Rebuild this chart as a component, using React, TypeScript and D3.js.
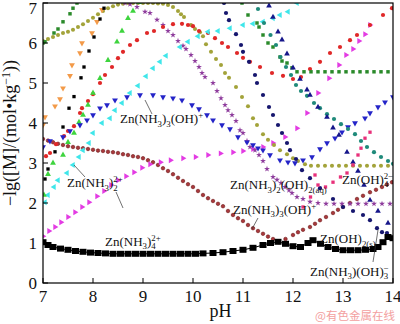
import React from "react";
import * as d3 from "d3";

type P = [number, number];

const X_TICKS = [7, 8, 9, 10, 11, 12, 13, 14];
const Y_TICKS = [0, 1, 2, 3, 4, 5, 6, 7];

// Zn(NH3)4 2+ (large black squares)
const znNH34: P[] = [
  [7.0, 1.02], [7.1, 0.95], [7.2, 0.9], [7.35, 0.86], [7.5, 0.83], [7.65, 0.8], [7.8, 0.78], [7.95, 0.76],
  [8.1, 0.75], [8.25, 0.74], [8.4, 0.73], [8.55, 0.73], [8.7, 0.73], [8.85, 0.73], [9.0, 0.73], [9.15, 0.73],
  [9.3, 0.73], [9.45, 0.73], [9.6, 0.73], [9.75, 0.73], [9.9, 0.73], [10.05, 0.73], [10.2, 0.74], [10.4, 0.75],
  [10.6, 0.77], [10.8, 0.8], [11.0, 0.83], [11.2, 0.88], [11.4, 0.95], [11.55, 1.0], [11.7, 1.03], [11.85, 0.98],
  [12.0, 0.92], [12.15, 0.9], [12.3, 1.0], [12.4, 1.07], [12.55, 0.98], [12.7, 0.9], [12.85, 0.85], [13.0, 0.82],
  [13.15, 0.82], [13.3, 0.82], [13.45, 0.83], [13.6, 0.85], [13.7, 0.9], [13.8, 1.02], [13.9, 1.15], [14.0, 1.12],
];
const blackSmall: P[] = [
  [7.04, 2.6], [7.1, 2.85], [7.24, 3.28], [7.4, 3.9], [7.52, 4.37], [7.62, 4.66], [7.76, 5.13],
  [7.82, 5.4], [7.92, 5.8], [8.02, 6.15], [8.14, 6.6], [8.22, 6.87],
];
const orangeTri: P[] = [
  [7.0, 3.95], [7.04, 4.15], [7.24, 4.42], [7.34, 4.6], [7.4, 4.87], [7.54, 5.18], [7.58, 5.45],
  [7.74, 5.75], [7.78, 6.0], [7.98, 6.25], [8.08, 6.53], [8.18, 6.83],
];
const greenLeft: P[] = [
  [7.0, 6.0], [7.04, 6.03], [7.22, 6.25], [7.3, 6.35], [7.4, 6.53], [7.54, 6.73], [7.6, 6.87], [7.68, 7.0],
];
const greenRight: P[] = [
  [10.98, 7.0], [11.1, 6.7], [11.28, 6.5], [11.32, 6.4], [11.4, 6.2], [11.5, 6.0], [11.6, 5.9], [11.74, 5.65],
  [11.78, 5.55], [11.88, 5.5], [11.98, 5.38], [12.08, 5.28], [12.22, 5.28], [12.36, 5.28], [12.5, 5.28],
  [12.64, 5.28], [12.78, 5.28], [12.92, 5.28], [13.06, 5.28], [13.2, 5.28], [13.34, 5.28], [13.48, 5.28],
  [13.62, 5.28], [13.76, 5.28], [13.9, 5.28],
];
const olive: P[] = [
  [7.0, 6.05], [7.1, 6.1], [7.2, 6.15], [7.3, 6.2], [7.4, 6.25], [7.5, 6.28], [7.6, 6.33], [7.7, 6.4],
  [7.8, 6.47], [7.9, 6.55], [8.0, 6.63], [8.1, 6.72], [8.2, 6.8], [8.3, 6.87], [8.4, 6.92], [8.5, 6.96],
  [8.6, 6.98], [8.7, 7.0], [8.8, 7.0], [8.9, 7.0], [9.0, 7.0], [9.1, 7.0], [9.2, 7.0], [9.3, 6.99],
  [9.4, 6.98], [9.5, 6.95], [9.6, 6.9], [9.7, 6.8], [9.76, 6.72], [9.82, 6.65], [9.96, 6.45], [10.04, 6.35],
  [10.14, 6.27], [10.2, 6.17], [10.26, 5.97], [10.36, 5.78], [10.46, 5.6], [10.56, 5.45], [10.64, 5.25],
  [10.72, 5.13], [10.86, 4.9], [10.98, 4.65], [11.1, 4.42], [11.2, 4.12], [11.28, 3.95], [11.4, 3.72],
  [11.5, 3.58], [11.62, 3.45], [11.74, 3.32], [11.88, 3.22], [12.0, 3.12], [12.1, 3.05], [12.24, 2.97],
  [12.36, 2.93], [12.5, 2.93], [12.64, 2.93], [12.78, 2.93], [12.92, 2.93], [13.06, 2.93], [13.2, 2.93],
  [13.34, 2.93], [13.48, 2.93], [13.62, 2.93], [13.76, 2.93], [13.9, 2.93],
];
const purpleStar: P[] = [
  [8.64, 7.0], [8.74, 6.97], [8.88, 6.9], [9.04, 6.78], [9.14, 6.75], [9.28, 6.58], [9.4, 6.45], [9.5, 6.3],
  [9.6, 6.2], [9.7, 6.05], [9.8, 5.93], [9.86, 5.85], [9.96, 5.7], [10.04, 5.55], [10.12, 5.4], [10.18, 5.25],
  [10.24, 5.15], [10.4, 5.0], [10.48, 4.8], [10.56, 4.62], [10.64, 4.45], [10.7, 4.32], [10.78, 4.2],
  [10.86, 4.05], [10.94, 3.82], [11.0, 3.75], [11.08, 3.55], [11.14, 3.4], [11.24, 3.32], [11.32, 3.2],
  [11.4, 3.05], [11.48, 2.85], [11.6, 2.65], [11.68, 2.58], [11.76, 2.5], [11.84, 2.4], [11.92, 2.32],
  [11.98, 2.25], [12.08, 2.15], [12.2, 2.1], [12.34, 2.03], [12.5, 2.0], [12.66, 1.98], [12.82, 1.98],
  [12.98, 1.98], [13.14, 1.98], [13.3, 1.98], [13.46, 1.98], [13.62, 1.98], [13.78, 1.98], [13.94, 1.98],
];
const redCircle: P[] = [
  [7.06, 3.17], [7.14, 3.25], [7.26, 3.47], [7.42, 3.67], [7.5, 3.8], [7.62, 3.92], [7.74, 4.25], [7.78, 4.37],
  [7.9, 4.55], [8.0, 4.72], [8.14, 5.0], [8.24, 5.2], [8.38, 5.4], [8.5, 5.62], [8.6, 5.78], [8.74, 5.95],
  [8.88, 6.07], [9.08, 6.25], [9.22, 6.3], [9.4, 6.4], [9.6, 6.47], [9.78, 6.48], [9.9, 6.45], [10.0, 6.42],
  [10.12, 6.3], [10.3, 6.25], [10.44, 6.12], [10.58, 6.0], [10.7, 5.9], [10.88, 5.75], [11.0, 5.63],
  [11.14, 5.53], [11.34, 5.4], [11.58, 5.25], [11.8, 5.18], [12.0, 5.1], [12.16, 5.15], [12.34, 5.35],
  [12.54, 5.53], [12.74, 5.75], [12.94, 5.9], [13.14, 6.07], [13.28, 6.2], [13.54, 6.45], [13.8, 6.7], [13.98, 6.87],
];
const limeTri: P[] = [
  [7.02, 2.2], [7.1, 2.72], [7.2, 3.0], [7.4, 3.2], [7.5, 3.52], [7.62, 3.75], [7.72, 4.02], [7.8, 4.2],
  [7.9, 4.45], [8.0, 4.75], [8.14, 5.12], [8.3, 5.57], [8.48, 6.03], [8.58, 6.3], [8.7, 6.62], [8.8, 6.8], [8.92, 7.02],
];
const cyanTri: P[] = [
  [7.04, 2.02], [7.1, 2.2], [7.22, 2.4], [7.3, 2.57], [7.48, 2.75], [7.6, 2.95], [7.72, 3.15], [7.8, 3.32],
  [7.92, 3.5], [8.0, 3.75], [8.18, 4.0], [8.34, 4.12], [8.44, 4.32], [8.58, 4.5], [8.74, 4.75], [8.9, 4.93],
  [9.06, 5.17], [9.2, 5.37], [9.34, 5.53], [9.46, 5.68], [9.74, 5.9], [9.9, 6.03], [10.1, 6.17], [10.3, 6.28],
  [10.5, 6.3], [10.74, 6.37], [11.0, 6.45], [11.2, 6.48], [11.4, 6.53], [11.6, 6.62], [11.74, 6.7], [11.9, 6.78],
  [12.08, 7.0],
];
const blueTri: P[] = [
  [7.0, 3.4], [7.14, 3.55], [7.4, 3.65], [7.54, 3.8], [7.74, 3.95], [7.88, 4.07], [8.0, 4.2], [8.14, 4.37],
  [8.28, 4.45], [8.44, 4.57], [8.68, 4.65], [8.94, 4.7], [9.2, 4.7], [9.4, 4.65], [9.6, 4.62], [9.78, 4.57],
  [9.98, 4.45], [10.12, 4.35], [10.28, 4.2], [10.4, 4.07], [10.58, 3.95], [10.74, 3.85], [10.9, 3.65],
  [11.08, 3.52], [11.2, 3.45], [11.3, 3.37], [11.4, 3.32], [11.54, 3.2], [11.74, 3.07], [11.9, 3.02],
  [12.04, 3.0], [12.2, 3.07], [12.38, 3.15], [12.54, 3.35], [12.68, 3.5], [12.84, 3.62], [12.98, 3.77],
  [13.1, 3.9], [13.24, 4.0], [13.44, 4.12], [13.54, 4.25], [13.7, 4.4], [13.84, 4.52], [14.0, 4.65],
];
const navyCircle: P[] = [
  [10.62, 7.0], [10.66, 6.75], [10.72, 6.57], [10.86, 6.22], [10.96, 5.95], [11.0, 5.78], [11.12, 5.53],
  [11.24, 5.2], [11.28, 5.0], [11.4, 4.7], [11.52, 4.4], [11.6, 4.2], [11.7, 3.95], [11.78, 3.75],
  [11.88, 3.5], [11.94, 3.32], [12.06, 3.1], [12.18, 2.82], [12.34, 2.62], [12.54, 2.37], [12.8, 2.1],
  [13.0, 1.9], [13.2, 1.8], [13.4, 1.7], [13.54, 1.57], [13.68, 1.37], [13.78, 1.27], [13.88, 1.25],
];
const navyTri: P[] = [
  [11.52, 6.93], [11.6, 6.65], [11.7, 6.28], [11.78, 6.08], [11.88, 5.73], [12.0, 5.38], [12.14, 5.1],
  [12.28, 4.83], [12.34, 4.7], [12.5, 4.4], [12.68, 4.15], [12.8, 3.88], [12.92, 3.7], [13.08, 3.27],
  [13.2, 3.02], [13.3, 2.8], [13.42, 2.45], [13.54, 2.07], [13.7, 1.8], [13.9, 1.5],
];
const tealCircle: P[] = [
  [11.3, 6.85], [11.42, 6.5], [11.55, 6.2], [11.66, 5.95], [11.75, 5.65], [11.86, 5.4], [11.96, 5.2],
  [12.06, 4.95], [12.16, 4.8], [12.28, 4.68], [12.42, 4.5], [12.54, 4.37], [12.68, 4.22], [12.82, 4.1],
  [12.96, 3.97], [13.1, 3.85], [13.24, 3.72], [13.36, 3.55], [13.48, 3.4], [13.62, 3.27], [13.76, 3.15],
  [13.9, 3.05], [14.0, 2.98],
];
const magentaTri: P[] = [
  [7.0, 1.17], [7.12, 1.3], [7.24, 1.4], [7.36, 1.52], [7.5, 1.65], [7.64, 1.77], [7.78, 1.9], [7.92, 2.02],
  [8.08, 2.17], [8.22, 2.3], [8.36, 2.45], [8.5, 2.57], [8.66, 2.67], [8.82, 2.77], [8.98, 2.88], [9.14, 2.97],
  [9.35, 3.02], [9.55, 3.07], [9.8, 3.12], [10.05, 3.15], [10.3, 3.2], [10.55, 3.24], [10.8, 3.27],
  [11.0, 3.3], [11.2, 3.35], [11.4, 3.4], [11.6, 3.5], [11.84, 3.65], [12.08, 3.87], [12.28, 4.25],
  [12.5, 4.75], [12.72, 5.12], [12.92, 5.45], [13.06, 5.7], [13.2, 5.85], [13.32, 6.05], [13.44, 6.22], [13.54, 6.45],
];
const maroonCircle: P[] = [
  [7.0, 3.6], [7.1, 3.56], [7.2, 3.52], [7.3, 3.48], [7.4, 3.45], [7.5, 3.42], [7.6, 3.4], [7.7, 3.38],
  [7.8, 3.37], [7.9, 3.35], [8.0, 3.33], [8.1, 3.31], [8.2, 3.3], [8.3, 3.28], [8.4, 3.27], [8.5, 3.25],
  [8.6, 3.22], [8.7, 3.2], [8.8, 3.17], [8.9, 3.15], [9.0, 3.12], [9.1, 3.07], [9.2, 3.02], [9.3, 2.95],
  [9.4, 2.87], [9.5, 2.8], [9.6, 2.72], [9.7, 2.63], [9.8, 2.55], [9.9, 2.47], [10.0, 2.4], [10.1, 2.3],
  [10.2, 2.2], [10.3, 2.12], [10.4, 2.05], [10.5, 1.98], [10.6, 1.92], [10.7, 1.8], [10.8, 1.7], [10.9, 1.62],
  [11.0, 1.55], [11.1, 1.45], [11.2, 1.37], [11.3, 1.3], [11.4, 1.23], [11.5, 1.16], [11.6, 1.1], [11.72, 1.02],
  [11.85, 1.1], [12.0, 1.2], [12.1, 1.27], [12.2, 1.33], [12.34, 1.4], [12.44, 1.48], [12.54, 1.57], [12.66, 1.65],
  [12.8, 1.75], [12.9, 1.83], [13.0, 1.9], [13.14, 2.0], [13.28, 2.1], [13.4, 2.18], [13.54, 2.27],
  [13.66, 2.33], [13.78, 2.4], [13.88, 2.46], [13.98, 2.52],
];
const pinkSquare: P[] = [
  [12.2, 1.9], [12.35, 2.15], [12.44, 2.7], [12.5, 2.45], [12.65, 2.4], [12.8, 2.52], [12.95, 2.65],
  [13.08, 2.75], [13.2, 2.95], [13.3, 3.2], [13.36, 3.37], [13.44, 3.62], [13.54, 3.77],
];

type Shape = "circle" | "square" | "triUp" | "triDown" | "triLeft" | "triRight" | "star";
interface Series { data: P[]; shape: Shape; fill: string; stroke?: string; size: number }

const SERIES: Series[] = [
  { data: maroonCircle, shape: "circle", fill: "#a8383c", stroke: "#6e1414", size: 10 },
  { data: magentaTri, shape: "triRight", fill: "#e33be3", size: 15 },
  { data: olive, shape: "circle", fill: "#a3a33a", size: 13 },
  { data: purpleStar, shape: "star", fill: "#8e3c9c", size: 11 },
  { data: redCircle, shape: "circle", fill: "#e02828", size: 14 },
  { data: cyanTri, shape: "triLeft", fill: "#3fe6ea", size: 15 },
  { data: limeTri, shape: "triUp", fill: "#3ed43e", size: 15 },
  { data: orangeTri, shape: "triDown", fill: "#f39a48", size: 15 },
  { data: blackSmall, shape: "square", fill: "#000000", size: 11 },
  { data: greenLeft, shape: "square", fill: "#2a8a2a", size: 12 },
  { data: greenRight, shape: "square", fill: "#2a8a2a", size: 12 },
  { data: blueTri, shape: "triDown", fill: "#2424c8", size: 15 },
  { data: tealCircle, shape: "circle", fill: "#1f8a7a", size: 14 },
  { data: navyCircle, shape: "circle", fill: "#16166e", size: 14 },
  { data: navyTri, shape: "triUp", fill: "#16168a", size: 14 },
  { data: pinkSquare, shape: "square", fill: "#e8307a", size: 11 },
];

const W = 400;
const H = 324;
const M = { left: 43, right: 7, top: 3, bottom: 41 };

const x = d3.scaleLinear().domain([7, 14]).range([M.left, W - M.right]);
const y = d3.scaleLinear().domain([0, 7]).range([H - M.bottom, M.top]);

const ROT: Record<Shape, number> = { circle: 0, square: 0, triUp: 0, triDown: 180, triLeft: -90, triRight: 90, star: 0 };
function symPath(shape: Shape, size: number) {
  const t =
    shape === "circle" ? d3.symbolCircle :
    shape === "square" ? d3.symbolSquare :
    shape === "star" ? d3.symbolStar : d3.symbolTriangle;
  return d3.symbol(t, size)() as string;
}

type Seg = { t: string; k?: "sub" | "sup"; dx?: number };
const SERIF = "'Liberation Serif', 'Times New Roman', serif";

function Chem({ px, py, segs, size = 13 }: { px: number; py: number; segs: Seg[]; size?: number }) {
  let cur = 0;
  return (
    <text x={x(px)} y={y(py)} fontSize={size} fontFamily={SERIF} fill="#111">
      {segs.map((s, i) => {
        const target = s.k === "sub" ? 3.5 : s.k === "sup" ? -5 : 0;
        const dy = target - cur;
        cur = target;
        return (
          <tspan key={i} dy={dy} dx={s.dx || 0} fontSize={s.k ? size * 0.68 : size}>
            {s.t}
          </tspan>
        );
      })}
    </text>
  );
}

const LABELS: { px: number; py: number; segs: Seg[] }[] = [
  { px: 8.54, py: 4.0, segs: [{ t: "Zn(NH" }, { t: "3", k: "sub" }, { t: ")" }, { t: "3", k: "sub" }, { t: "(OH)" }, { t: "+", k: "sup" }] },
  { px: 7.48, py: 2.4, segs: [{ t: "Zn(NH" }, { t: "3", k: "sub" }, { t: ")" }, { t: "2", k: "sub" }, { t: "2+", k: "sup", dx: -4.5 }] },
  { px: 8.24, py: 0.93, segs: [{ t: "Zn(NH" }, { t: "3", k: "sub" }, { t: ")" }, { t: "4", k: "sub" }, { t: "2+", k: "sup", dx: -4.5 }] },
  { px: 10.74, py: 2.35, segs: [{ t: "Zn(NH" }, { t: "3", k: "sub" }, { t: ")" }, { t: "2", k: "sub" }, { t: "(OH)" }, { t: "2(aq)", k: "sub" }] },
  { px: 10.8, py: 1.73, segs: [{ t: "Zn(NH" }, { t: "3", k: "sub" }, { t: ")" }, { t: "3", k: "sub" }, { t: "(OH)" }, { t: "+", k: "sup" }] },
  { px: 12.98, py: 2.48, segs: [{ t: "Zn(OH)" }, { t: "4", k: "sub" }, { t: "2−", k: "sup", dx: -4.5 }] },
  { px: 12.54, py: 1.0, segs: [{ t: "Zn(OH)" }, { t: "2(s)", k: "sub" }] },
  { px: 12.34, py: 0.18, segs: [{ t: "Zn(NH" }, { t: "3", k: "sub" }, { t: ")(OH)" }, { t: "3", k: "sub" }, { t: "−", k: "sup", dx: -4.5 }] },
];

const LEADERS: [P, P][] = [
  [[9.04, 4.575], [9.18, 4.225]],
  [[7.62, 2.95], [7.84, 2.65]],
  [[8.46, 2.275], [8.6, 1.875]],
  [[11.3, 1.625], [11.18, 1.35]],
  [[13.6, 0.525], [13.7, 1.325]],
];

export default function App() {
  const line = d3.line<P>().x((d) => x(d[0])).y((d) => y(d[1]));
  return (
    <svg width={W} height={H} style={{ position: "absolute", left: 0, top: 0, background: "#fff" }}>
      <defs>
        <clipPath id="plot">
          <rect x={M.left} y={M.top} width={W - M.left - M.right} height={H - M.top - M.bottom} />
        </clipPath>
      </defs>
      <rect width={W} height={H} fill="#fff" />
      <g clipPath="url(#plot)">
        {SERIES.map((s, si) => (
          <g key={si}>
            {s.data.map((d, i) => (
              <path
                key={i}
                d={symPath(s.shape, s.size)}
                transform={`translate(${x(d[0])},${y(d[1])}) rotate(${ROT[s.shape]})`}
                fill={s.fill}
                stroke={s.stroke || "none"}
                strokeWidth={0.6}
              />
            ))}
          </g>
        ))}
        <path d={line(znNH34) as string} fill="none" stroke="#000" strokeWidth={1} />
        {znNH34.map((d, i) => (
          <rect key={i} x={x(d[0]) - 3.5} y={y(d[1]) - 3} width={7} height={6} fill="#000" />
        ))}
      </g>
      {LEADERS.map(([a, b], i) => (
        <line key={i} x1={x(a[0])} y1={y(a[1])} x2={x(b[0])} y2={y(b[1])} stroke="#333" strokeWidth={0.7} />
      ))}
      {LABELS.map((l, i) => (
        <Chem key={i} px={l.px} py={l.py} segs={l.segs} />
      ))}
      {/* frame */}
      <rect x={M.left} y={M.top} width={W - M.left - M.right} height={H - M.top - M.bottom} fill="none" stroke="#000" strokeWidth={1.2} />
      {X_TICKS.map((t) => (
        <g key={t}>
          <line x1={x(t)} x2={x(t)} y1={y(0)} y2={y(0) - 5} stroke="#000" strokeWidth={1} />
          <text x={x(t)} y={y(0) + 19} textAnchor="middle" fontSize={17} fontFamily={SERIF} fill="#111">{t}</text>
        </g>
      ))}
      {Y_TICKS.map((t) => (
        <g key={t}>
          <line x1={x(7)} x2={x(7) + 5} y1={y(t)} y2={y(t)} stroke="#000" strokeWidth={1} />
          <text x={x(7) - 6} y={Math.max(y(t) + 6, 14)} textAnchor="end" fontSize={17} fontFamily={SERIF} fill="#111">{t}</text>
        </g>
      ))}
      <text x={x(10.55)} y={H - 7} textAnchor="middle" fontSize={18} fontFamily={SERIF} fill="#111">pH</text>
      <text transform={`translate(16,${(y(0) + y(7)) / 2 - 10}) rotate(-90)`} textAnchor="middle" fontSize={18} fontFamily={SERIF} fill="#111">
        <tspan>−lg([M]/(mol•kg</tspan>
        <tspan dy={-6} fontSize={12}>−1</tspan>
        <tspan dy={6}>))</tspan>
      </text>
      <text x={W - 5} y={H - 4} textAnchor="end" fontSize={11.5} fontFamily="'Noto Sans CJK SC', sans-serif" fill="#f3a0a0">@有色金属在线</text>
    </svg>
  );
}
